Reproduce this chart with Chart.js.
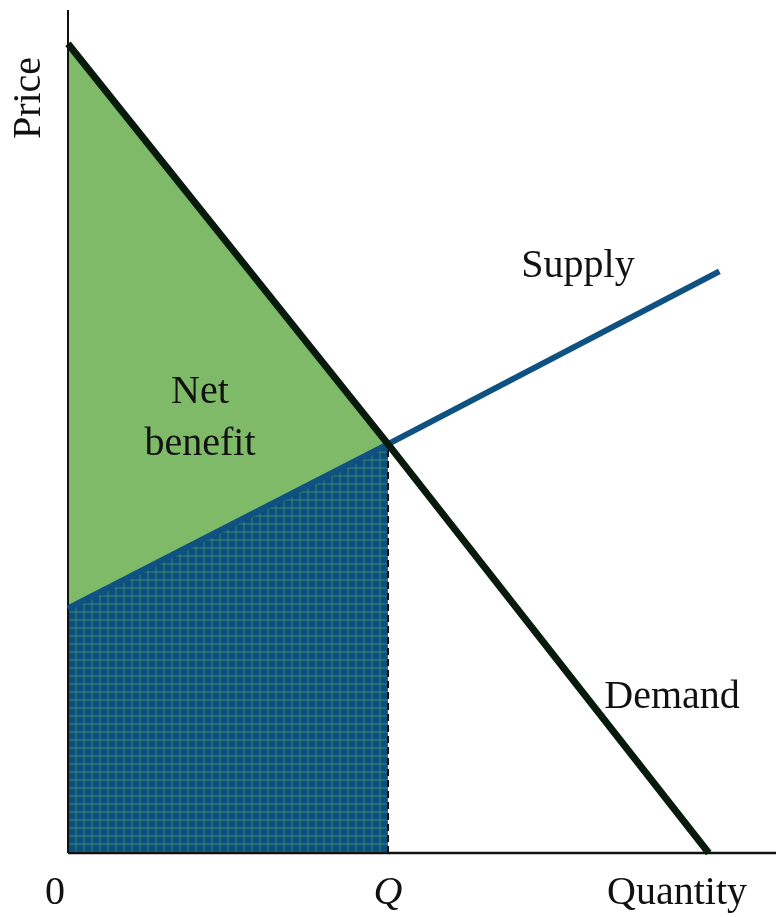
<!DOCTYPE html>
<html>
<head>
<meta charset="utf-8">
<script src="https://cdn.jsdelivr.net/npm/chart.js@4.4.0/dist/chart.umd.min.js"></script>
<style>
  body { margin: 0; background: #fff; }
  #wrap { width: 776px; height: 917px; }
</style>
</head>
<body>
<div id="wrap"><canvas id="surplusChart"></canvas></div>
<script>
// Curves (quantity on x, price on y, both on a 0-100 scale)
const demandQ = [0, 45.2, 90.5];
const demandP = [96, 48.5, 0];
const supplyQ = [0, 45.2, 92];
const supplyP = [29, 48.5, 69];
const eqQ = 45.2;    // Q
const eqP = 48.5;    // price at Q

const axisLabels = { y: 'Price', origin: '0', q: 'Q', x: 'Quantity' };
const curveLabels = { supply: 'Supply', demand: 'Demand', area: ['Net', 'benefit'] };

const toPoints = (xs, ys) => xs.map((x, i) => ({ x: x, y: ys[i] }));

// Plaid pattern for the cost area under supply
function makePlaid() {
    const c = document.createElement('canvas');
    c.width = 8; c.height = 8;
    const g = c.getContext('2d');
    g.fillStyle = '#0c4f7d';
    g.fillRect(0, 0, 8, 8);
    g.fillStyle = 'rgba(90,170,110,0.3)';
    g.fillRect(3, 0, 2, 8);
    g.fillRect(0, 3, 8, 2);
    return g.createPattern(c, 'repeat');
}

const textPlugin = {
    id: 'labels',
    afterDraw(chart) {
        const ctx = chart.ctx;
        const xs = chart.scales.x, ys = chart.scales.y;
        ctx.save();
        ctx.fillStyle = '#111';
        ctx.textAlign = 'center';
        ctx.textBaseline = 'middle';
        ctx.font = '40px "Liberation Serif", "Times New Roman", serif';

        // axis title
        ctx.save();
        ctx.translate(29, 98);
        ctx.rotate(-Math.PI / 2);
        ctx.fillText(axisLabels.y, 0, 0);
        ctx.restore();

        const below = ys.bottom + 40;
        ctx.fillText(axisLabels.origin, xs.left - 13, below);
        ctx.fillText(axisLabels.x, 677, below);
        ctx.font = 'italic 40px "Liberation Serif", "Times New Roman", serif';
        ctx.fillText(axisLabels.q, xs.getPixelForValue(eqQ), below);

        ctx.font = '40px "Liberation Serif", "Times New Roman", serif';
        ctx.fillText(curveLabels.supply, 578, 266);
        ctx.fillText(curveLabels.demand, 672, 697);
        ctx.fillText(curveLabels.area[0], 200, 392);
        ctx.fillText(curveLabels.area[1], 200, 444);
        ctx.restore();
    }
};

new Chart(document.getElementById('surplusChart'), {
    type: 'line',
    data: {
        datasets: [
            { data: toPoints(demandQ, demandP), borderColor: '#071a0c', borderWidth: 7, clip: false },
            { data: toPoints(supplyQ, supplyP), borderColor: '#0f5282', borderWidth: 6, clip: false },
            { data: [{ x: eqQ, y: 0 }, { x: eqQ, y: eqP }], borderColor: '#111', borderWidth: 2, borderDash: [7, 4], clip: false },
            { data: [{ x: 0, y: 0 }, { x: 0, y: 100 }], borderColor: '#111', borderWidth: 2, clip: false },
            { data: [{ x: 0, y: 0 }, { x: 100, y: 0 }], borderColor: '#111', borderWidth: 2.5, clip: false },
            // net benefit: between demand and supply up to Q
            { data: [{ x: 0, y: demandP[0] }, { x: eqQ, y: eqP }], borderWidth: 0, fill: 6, backgroundColor: '#7fba69' },
            // cost: under supply up to Q
            { data: [{ x: 0, y: supplyP[0] }, { x: eqQ, y: eqP }], borderWidth: 0, fill: 'origin', backgroundColor: makePlaid() }
        ]
    },
    options: {
        responsive: true,
        maintainAspectRatio: false,
        animation: false,
        layout: { padding: { left: 68, top: 10, right: 0, bottom: 64 } },
        elements: { point: { radius: 0 }, line: { tension: 0 } },
        scales: {
            x: { type: 'linear', min: 0, max: 100, display: false },
            y: { type: 'linear', min: 0, max: 100, display: false }
        },
        plugins: { legend: { display: false }, tooltip: { enabled: false } }
    },
    plugins: [textPlugin]
});
</script>
</body>
</html>
